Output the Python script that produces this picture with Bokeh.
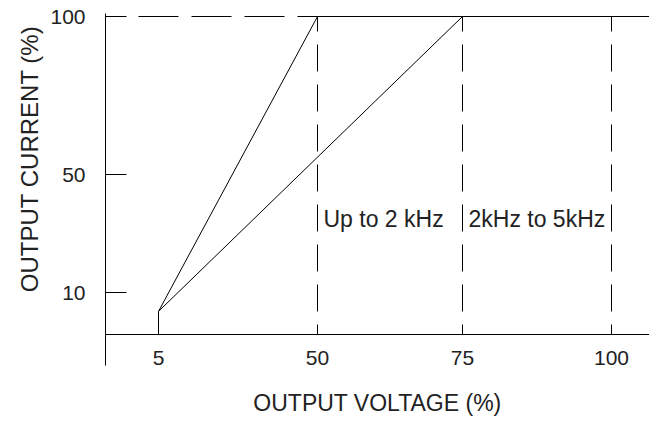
import numpy as np
from bokeh.plotting import figure
from bokeh.models import Range1d, FixedTicker, LinearAxis, Title
from bokeh.core.properties import value
from bokeh.embed import file_html
from bokeh.resources import INLINE

# ---- data ----
voltage_ticks = [5, 50, 75, 100]          # output voltage (%)
current_ticks = [10, 50, 100]             # output current (%)
band_limits = [50, 75, 100]               # dashed frequency-band boundaries (%)
band_labels = ["Up to 2 kHz", "2kHz to 5kHz"]
band_label_at = [50, 75]                  # voltage where each band label starts
band_label_current = [35, 35]             # current level of band labels
low_freq_v = [5, 5, 50]                   # derating curve up to 2 kHz
low_freq_i = [0, 5.5, 100]
high_freq_v = [5, 75]                     # derating curve 2 kHz to 5 kHz
high_freq_i = [5.5, 100]
limit_current = 100
x_title = "OUTPUT VOLTAGE (%)"
y_title = "OUTPUT CURRENT (%)"

# ---- schematic (non-linear) axis layout ----
x_anchor_val = [0, 5, 50, 75, 100]
x_anchor_pos = [0, 53, 212, 357, 506]
y_anchor_val = [0, 10, 50, 100]
y_anchor_pos = [0, 42, 160, 318]

def xs(v):
    return [float(a) for a in np.interp(v, x_anchor_val, x_anchor_pos)]

def ys(v):
    return [float(a) for a in np.interp(v, y_anchor_val, y_anchor_pos)]

FONT = "Liberation Sans"
TXT = "#222222"

p = figure(width=649, height=422, output_backend="svg", toolbar_location=None,
           x_range=Range1d(0, 544), y_range=Range1d(-31, 321),
           x_axis_type=None, y_axis_type=None,
           min_border_left=105, min_border_right=0, min_border_top=13, min_border_bottom=57)
p.outline_line_color = None
p.background_fill_color = "white"

xt = xs(voltage_ticks)
yt = ys(current_ticks)

# y axis
yaxis = LinearAxis(ticker=FixedTicker(ticks=yt),
                   major_label_overrides={t: str(v) for t, v in zip(yt, current_ticks)})
yaxis.major_tick_in = 21
yaxis.major_tick_out = 0
yaxis.minor_tick_line_color = None
yaxis.major_label_standoff = 20
yaxis.axis_line_color = "black"
yaxis.major_tick_line_color = "black"
yaxis.major_label_text_font = FONT
yaxis.major_label_text_font_size = "21px"
yaxis.major_label_text_color = TXT
p.add_layout(yaxis, "left")

# y axis title
p.add_layout(Title(text=y_title, align="right", offset=12,
                   text_font=FONT, text_font_size="24px", text_font_style="normal",
                   text_color=TXT), "left")

# x axis at the zero-current line
xaxis = LinearAxis(ticker=FixedTicker(ticks=xt),
                   major_label_overrides={t: str(v) for t, v in zip(xt, voltage_ticks)},
                   fixed_location=0)
xaxis.major_tick_in = 0
xaxis.major_tick_out = 0
xaxis.minor_tick_line_color = None
xaxis.major_label_standoff = 16
xaxis.axis_line_color = "black"
xaxis.major_label_text_font = FONT
xaxis.major_label_text_font_size = "21px"
xaxis.major_label_text_color = TXT
p.add_layout(xaxis, "below")

# x axis title (bare axis below the frame)
xlab = LinearAxis(ticker=FixedTicker(ticks=[]), axis_label=x_title)
xlab.axis_line_color = None
xlab.major_tick_line_color = None
xlab.minor_tick_line_color = None
xlab.major_label_text_font_size = "0px"
xlab.axis_label_standoff = 24
xlab.axis_label_text_font = FONT
xlab.axis_label_text_font_size = "23px"
xlab.axis_label_text_font_style = "normal"
xlab.axis_label_text_color = TXT
p.add_layout(xlab, "below")

# dashed band boundaries
top = ys([limit_current])[0]
bx = xs(band_limits)
p.segment(x0=bx, y0=[top] * len(bx), x1=bx, y1=ys([0] * len(bx)),
          line_color="black", line_width=1, line_dash="27 13", line_dash_offset=12)

# top limit line: dashed to the first boundary, solid after
p.segment(x0=[0], y0=[top], x1=xs([band_limits[0]]), y1=[top],
          line_color="black", line_width=1, line_dash="40 13", line_dash_offset=20)
p.segment(x0=xs([band_limits[0]]), y0=[top], x1=[p.x_range.end], y1=[top],
          line_color="black", line_width=1)

# derating curves
p.line(xs(low_freq_v), ys(low_freq_i), line_color="black", line_width=1)
p.line(xs(high_freq_v), ys(high_freq_i), line_color="black", line_width=1)

# band labels
p.text(x=xs(band_label_at), y=ys(band_label_current), text=band_labels,
       x_offset=6, text_align="left", text_baseline="middle",
       text_font=value(FONT), text_font_size="23px", text_color=TXT)

open("out.html", "w").write(file_html(p, INLINE))
